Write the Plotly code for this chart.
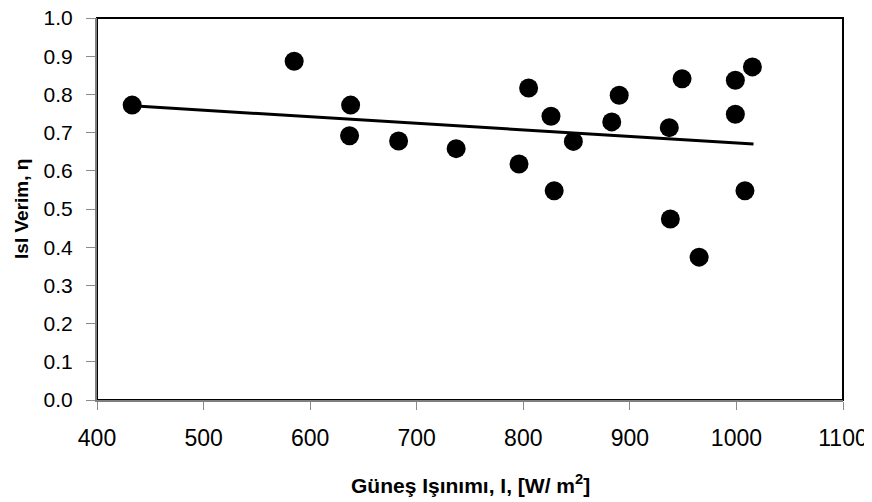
import plotly.graph_objects as go

# measured points: solar irradiance (W/m2) vs thermal efficiency
irradiance = [433, 585, 638, 637, 683, 737, 796, 805, 826, 829, 847,
              883, 890, 937, 938, 949, 965, 999, 999, 1008, 1015]
efficiency = [0.772, 0.887, 0.772, 0.692, 0.678, 0.658, 0.618, 0.817,
              0.743, 0.548, 0.677, 0.728, 0.798, 0.713, 0.474, 0.841,
              0.374, 0.837, 0.748, 0.548, 0.872]

# linear trend line end points, as drawn
trend_x = [433, 1016]
trend_y = [0.770, 0.670]

x_ticks = list(range(400, 1101, 100))
y_ticks = [i / 10 for i in range(11)]

font_family = "Liberation Sans, Arial, sans-serif"

fig = go.Figure()
fig.add_trace(go.Scatter(
    x=trend_x, y=trend_y, mode="lines",
    line=dict(color="black", width=3),
    showlegend=False,
))
fig.add_trace(go.Scatter(
    x=irradiance, y=efficiency, mode="markers",
    marker=dict(color="black", size=19, line=dict(width=0)),
    showlegend=False,
))

axis_style = dict(
    showgrid=False, zeroline=False, automargin=False,
    showline=True, linecolor="#7f7f7f", linewidth=2,
    ticks="outside", tickcolor="#8c8c8c", tickwidth=1,
    ticklabeloverflow="allow",
)

fig.update_xaxes(
    range=[400, 1100], tickvals=x_ticks, ticklen=8,
    ticklabelstandoff=8,
    tickfont=dict(family=font_family, size=23, color="black"),
    **axis_style,
)
fig.update_yaxes(
    range=[0, 1.0], tickvals=y_ticks, tickformat=".1f", ticklen=9,
    ticklabelstandoff=9,
    tickfont=dict(family=font_family, size=21, color="black"),
    **axis_style,
)

# black frame around plot area
fig.add_shape(type="rect", xref="paper", yref="paper", x0=0, y0=0, x1=1, y1=1,
              line=dict(color="black", width=2), layer="below")

# axis titles
fig.add_annotation(
    text="<b>Güneş Işınımı, I, [W/ m<sup>2</sup>]</b>",
    xref="paper", yref="paper", x=0.5, y=-0.22,
    xanchor="center", yanchor="middle", showarrow=False,
    font=dict(family=font_family, size=21, color="black"),
)
fig.add_annotation(
    text="<b>Isl Verim, η</b>", textangle=-90,
    xref="paper", yref="paper", x=-0.102, y=0.5,
    xanchor="center", yanchor="middle", showarrow=False,
    font=dict(family=font_family, size=19, color="black"),
)

# the page body adds an 8px offset, so the figure is 8px smaller on each side
fig.update_layout(
    width=864, height=494,
    margin=dict(l=89, r=29, t=10, b=102),
    plot_bgcolor="white", paper_bgcolor="white",
    font=dict(family=font_family),
)

fig.write_html("out.html")
